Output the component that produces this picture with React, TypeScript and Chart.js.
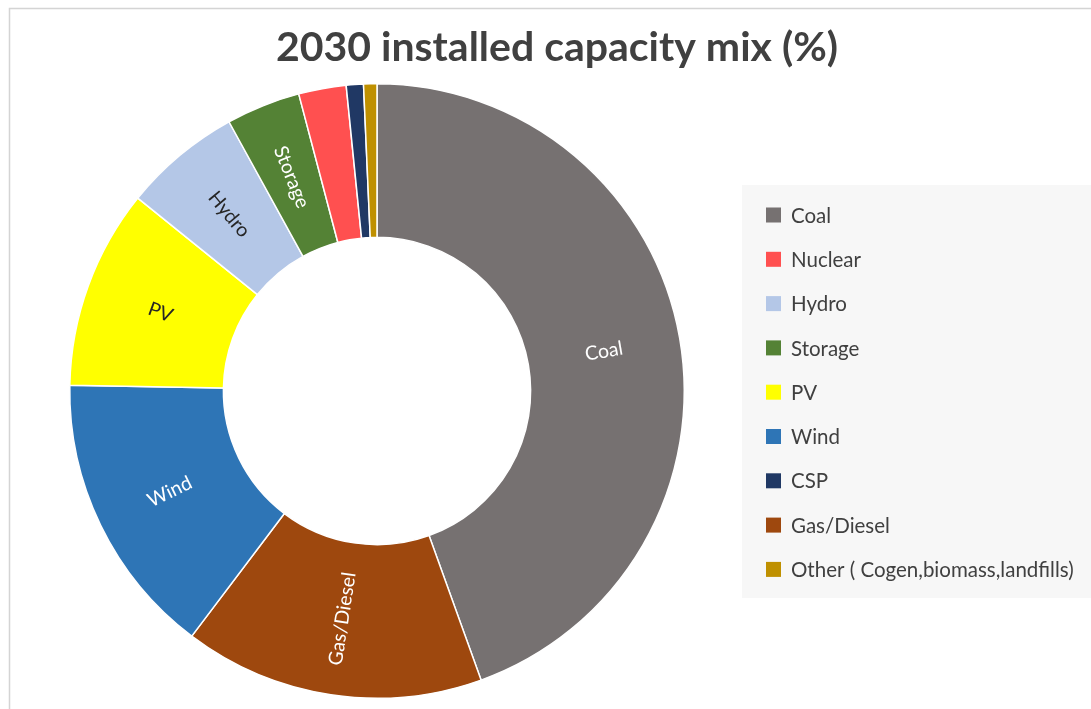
import { useEffect, useRef } from "react";
import { Chart, registerables } from "chart.js";

Chart.register(...registerables);

const TITLE = "2030 installed capacity mix (%)";

// Slices, clockwise from 12 o'clock
const categories = [
  "Coal",
  "Gas/Diesel",
  "Wind",
  "PV",
  "Hydro",
  "Storage",
  "Nuclear",
  "CSP",
  "Other ( Cogen,biomass,landfills)",
];
const shares = [44.5, 15.8, 15.0, 10.5, 6.2, 3.9, 2.5, 0.9, 0.7];
const sliceColors = [
  "#767171",
  "#9E480E",
  "#2E75B6",
  "#FFFF00",
  "#B4C7E7",
  "#548235",
  "#FF5050",
  "#203864",
  "#BF9000",
];

// Order of the entries in the legend box
const legendOrder = [
  "Coal",
  "Nuclear",
  "Hydro",
  "Storage",
  "PV",
  "Wind",
  "CSP",
  "Gas/Diesel",
  "Other ( Cogen,biomass,landfills)",
];

// Slices wide enough to carry their name inside the ring
const labelledSlices = ["Coal", "Gas/Diesel", "Wind", "PV", "Hydro", "Storage"];

const FONT = "Lato, 'Open Sans', sans-serif";
const TEXT_GREY = "#404040";

function luminance(hex: string): number {
  const n = parseInt(hex.slice(1), 16);
  const r = (n >> 16) & 255;
  const g = (n >> 8) & 255;
  const b = n & 255;
  return (0.299 * r + 0.587 * g + 0.114 * b) / 255;
}

// Frame, title and legend box painted on the canvas
const decorPlugin = {
  id: "decor",
  beforeDraw(chart: Chart) {
    const ctx = chart.ctx;
    ctx.save();
    ctx.fillStyle = "#ffffff";
    ctx.fillRect(0, 0, chart.width, chart.height);
    // outer frame (left and top edges visible)
    ctx.strokeStyle = "#d4d4d4";
    ctx.lineWidth = 1.5;
    ctx.beginPath();
    ctx.moveTo(9.5, chart.height + 5);
    ctx.lineTo(9.5, 8.5);
    ctx.lineTo(chart.width + 5, 8.5);
    ctx.stroke();
    // title
    ctx.fillStyle = TEXT_GREY;
    ctx.font = `bold 41px ${FONT}`;
    ctx.textAlign = "center";
    ctx.textBaseline = "middle";
    ctx.fillText(TITLE, 557, 48);
    ctx.restore();
  },
  afterDraw(chart: Chart) {
    const ctx = chart.ctx;
    const labels = chart.data.labels as string[];
    const colors = chart.data.datasets[0].backgroundColor as string[];
    ctx.save();
    ctx.fillStyle = "#f7f7f7";
    ctx.fillRect(742, 185, chart.width - 742, 413);
    ctx.font = `20.5px ${FONT}`;
    ctx.textAlign = "left";
    ctx.textBaseline = "middle";
    legendOrder.forEach((name, i) => {
      const idx = labels.indexOf(name);
      const y = 215 + i * 44.3;
      ctx.fillStyle = colors[idx];
      ctx.fillRect(766, y - 7.5, 15, 15);
      ctx.fillStyle = TEXT_GREY;
      ctx.fillText(name, 791, y + 1);
    });
    ctx.restore();
  },
};

// Category names written radially inside their slices
const sliceLabelPlugin = {
  id: "sliceLabels",
  afterDatasetsDraw(chart: Chart) {
    const ctx = chart.ctx;
    const meta = chart.getDatasetMeta(0);
    const labels = chart.data.labels as string[];
    const colors = chart.data.datasets[0].backgroundColor as string[];
    ctx.save();
    ctx.font = `19.5px ${FONT}`;
    ctx.textAlign = "center";
    ctx.textBaseline = "middle";
    meta.data.forEach((el: any, i: number) => {
      const name = labels[i];
      if (!labelledSlices.includes(name)) return;
      const { x, y, startAngle, endAngle, innerRadius, outerRadius } = el.getProps(
        ["x", "y", "startAngle", "endAngle", "innerRadius", "outerRadius"],
        true
      );
      const mid = (startAngle + endAngle) / 2;
      const r = (innerRadius + outerRadius) / 2;
      const px = x + r * Math.cos(mid);
      const py = y + r * Math.sin(mid);
      let rot = mid;
      if (Math.cos(mid) < 0) rot += Math.PI;
      ctx.save();
      ctx.translate(px, py);
      ctx.rotate(rot);
      ctx.fillStyle = luminance(colors[i]) > 0.6 ? "#262626" : "#ffffff";
      ctx.fillText(name, 0, 0);
      ctx.restore();
    });
    ctx.restore();
  },
};

export default function App() {
  const canvasRef = useRef<HTMLCanvasElement | null>(null);

  useEffect(() => {
    const canvas = canvasRef.current;
    if (!canvas) return;
    const chart = new Chart(canvas, {
      type: "doughnut",
      data: {
        labels: categories,
        datasets: [
          {
            data: shares,
            backgroundColor: sliceColors,
            borderColor: "#ffffff",
            borderWidth: 1.5,
          },
        ],
      },
      options: {
        responsive: false,
        animation: false,
        devicePixelRatio: 1,
        cutout: "50%",
        rotation: 0,
        layout: { padding: { left: 69, top: 83, right: 406, bottom: 10 } },
        plugins: {
          legend: { display: false },
          title: { display: false },
          tooltip: { enabled: false },
        },
        events: [],
      },
      plugins: [decorPlugin, sliceLabelPlugin],
    });
    return () => chart.destroy();
  }, []);

  return (
    <div style={{ position: "absolute", left: 0, top: 0, width: 1091, height: 709 }}>
      <canvas ref={canvasRef} width={1091} height={709} style={{ display: "block" }} />
    </div>
  );
}
